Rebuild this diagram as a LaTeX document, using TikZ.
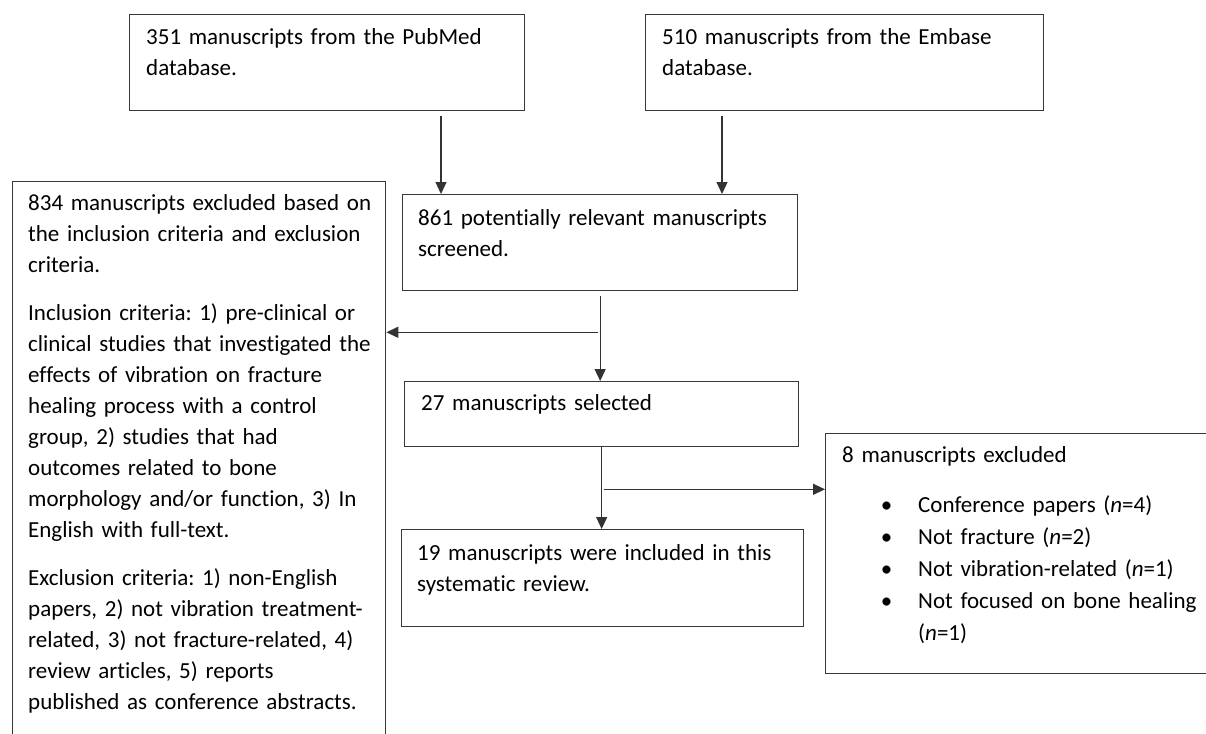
\documentclass[tikz,border=0pt]{standalone}
\usepackage{fontspec}
\setmainfont{Carlito}[Ligatures=NoCommon]
\usetikzlibrary{arrows.meta,calc}
\frenchspacing
\begin{document}
\begin{tikzpicture}[x=1pt,y=-1pt,
  box/.style={draw=black!78, line width=1.3pt, inner sep=0pt, anchor=north west},
  txt/.style={anchor=base west, inner sep=0pt, align=left, text width=380pt, font=\frenchspacing\fontsize{23}{31}\selectfont},
  btxt/.style={anchor=base west, inner sep=0pt, align=left, text width=300pt, font=\frenchspacing\fontsize{23}{32}\selectfont},
  arr/.style={draw=black!80, line width=1.3pt, -{Triangle[length=12pt,width=11pt]}}]
\useasboundingbox (0,0) rectangle (1206,733);
\clip (0,0) rectangle (1206,733);
% boxes
\node[box, minimum width=395pt, minimum height=96pt] (A) at (129,14) {};
\node[box, minimum width=398pt, minimum height=96pt] (B) at (645,14) {};
\node[box, minimum width=395pt, minimum height=96pt] (C) at (402,194) {};
\node[box, minimum width=394pt, minimum height=65pt] (D) at (404,381) {};
\node[box, minimum width=402pt, minimum height=97pt] (E) at (401,529) {};
\node[box, minimum width=373pt, minimum height=600pt] (L) at (12,181) {};
\node[box, minimum width=400pt, minimum height=240pt] (R) at (825,433) {};
% texts
\node[txt] (tA) at (146,45) {351 manuscripts from the PubMed\\database.};
\node[txt] (tB) at (662,45) {510 manuscripts from the Embase\\database.};
\node[txt] (tC) at (418,225) {861 potentially relevant manuscripts\\screened.};
\node[txt] (tD) at (421,410) {27 manuscripts selected};
\node[txt] (tE) at (417,560) {19 manuscripts were included in this\\systematic review.};
\node[txt] (tL) at (28,210) {834 manuscripts excluded based on\\the inclusion criteria and exclusion\\criteria.\\[17pt]
Inclusion criteria: 1) pre-clinical or\\clinical studies that investigated the\\effects of vibration on fracture\\healing process with a control\\group, 2) studies that had\\outcomes related to bone\\morphology and/or function, 3) In\\English with full-text.\\[17pt]
Exclusion criteria: 1) non-English\\papers, 2) not vibration treatment-\\related, 3) not fracture-related, 4)\\review articles, 5) reports\\published as conference abstracts.};
\node[txt] (tR) at (842,462) {8 manuscripts excluded};
\node[btxt] (tRb) at (918,512) {\leavevmode\llap{•\hspace{26pt}}Conference papers (\textit{n}=4)\\
\leavevmode\llap{•\hspace{26pt}}Not fracture (\textit{n}=2)\\
\leavevmode\llap{•\hspace{26pt}}Not vibration-related (\textit{n}=1)\\
\leavevmode\llap{•\hspace{26pt}}Not focused on bone healing\\
(\textit{n}=1)};
% connectors
\draw[arr] ([xshift=312pt,yshift=-5pt]A.south west) -- ([xshift=39pt]C.north west);
\draw[arr] ([xshift=77pt,yshift=-5pt]B.south west) -- ([xshift=320pt]C.north west);
\draw[arr] ([yshift=-5pt]C.south) -- (C.south |- D.north);
\coordinate (b1) at ([xshift=-2pt,yshift=-41pt]C.south);
\draw[arr] (b1) -- (b1 -| L.east);
\draw[arr] (D.south) -- (D.south |- E.north);
\coordinate (b2) at ([xshift=2pt,yshift=-42pt]D.south);
\draw[arr] (b2) -- (b2 -| R.west);
\end{tikzpicture}
\end{document}
